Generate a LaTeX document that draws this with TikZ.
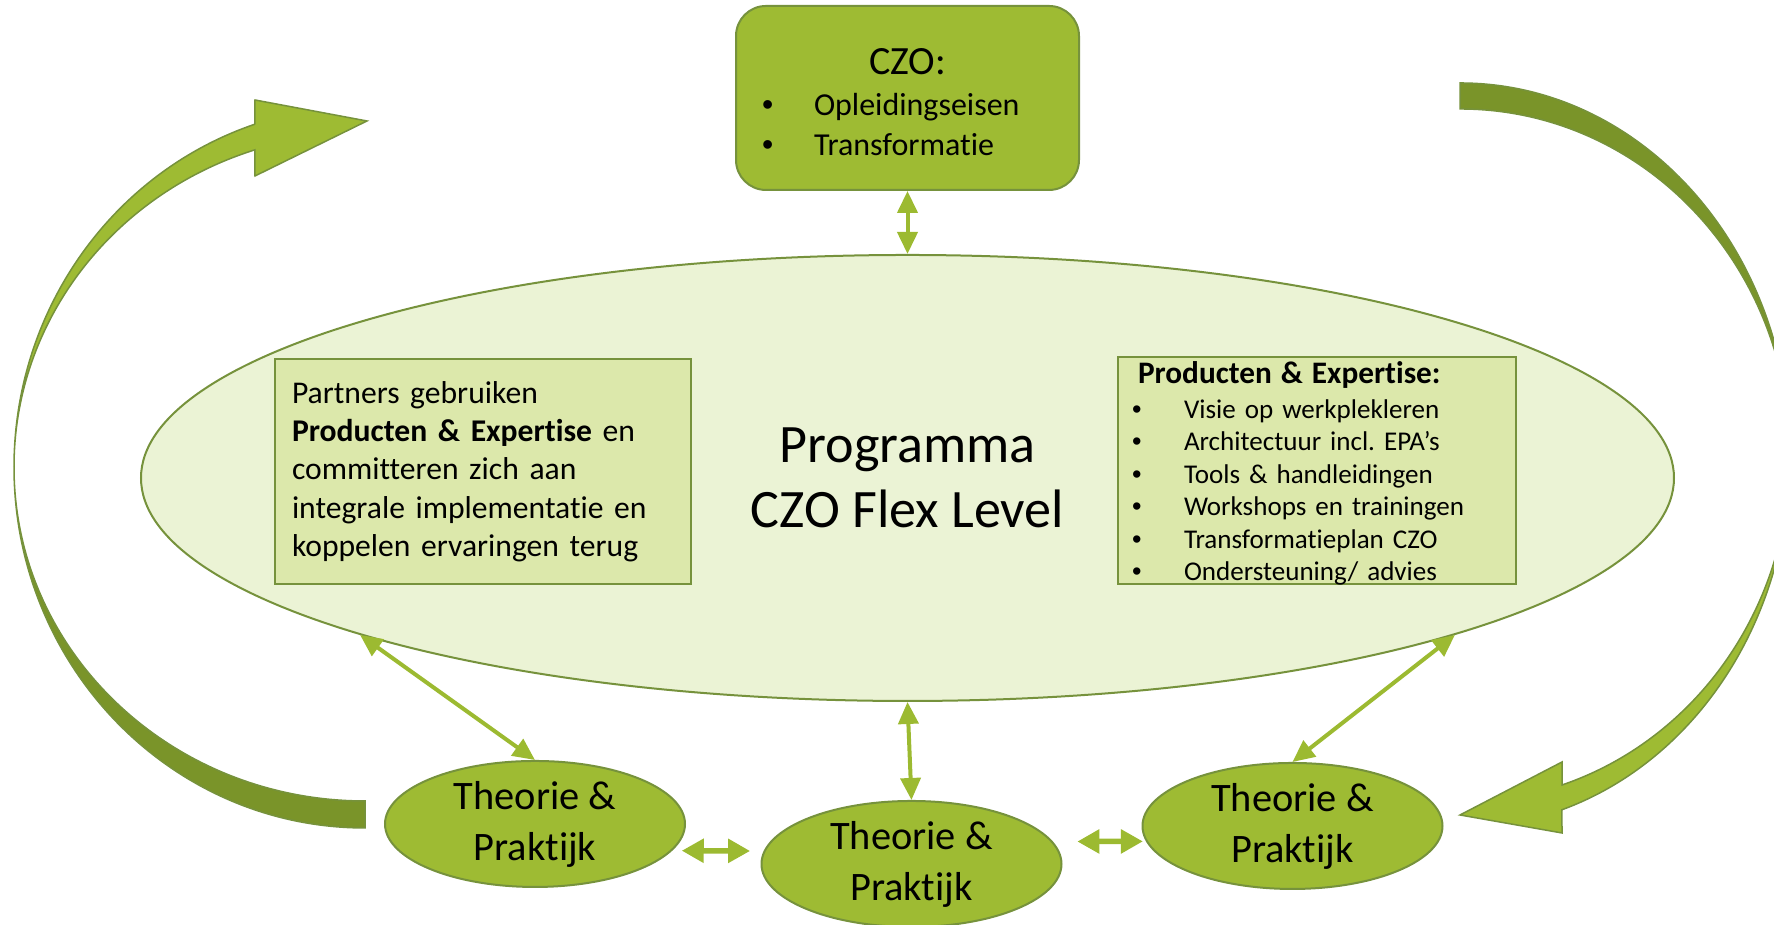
\documentclass[tikz,border=0pt]{standalone}
\usepackage{fontspec}
\setmainfont{Carlito}[Ligatures={NoCommon,NoContextual}]
\newfontfamily\bulletfont{Liberation Sans}
\usepackage{tikz}
\usetikzlibrary{shapes.geometric, arrows.meta, positioning}
\usepackage{xcolor}

\newcommand{\bulletmark}{\makebox[0.46cm][l]{\hspace*{-0.06cm}\bulletfont •}}

\begin{document}
\frenchspacing
\begin{tikzpicture}[
    >={Triangle[length=0.22cm, width=0.2cm]},
    node distance=0.6cm and 0.8cm,
    font=\fontsize{9pt}{10.9pt}\selectfont
]

\definecolor{colorleaf}{HTML}{9EBB33}
\definecolor{borderleaf}{HTML}{76923C}
\definecolor{colorcore}{HTML}{EBF3D5}
\definecolor{colorinfo}{HTML}{DCE8AB}
\definecolor{colorback}{HTML}{7A9429}
\definecolor{colorlink}{HTML}{9CBA31}

\tikzset{
    corebase/.style={
        ellipse,
        draw=borderleaf,
        fill=colorcore,
        line width=0.02cm,
        minimum width=15.33cm,
        minimum height=4.46cm,
        align=center,
        font=\fontsize{15.4pt}{18.5pt}\selectfont
    },
    leafbase/.style={
        ellipse,
        draw=borderleaf,
        fill=colorleaf,
        line width=0.02cm,
        minimum width=3cm,
        minimum height=1.26cm,
        inner sep=0pt,
        align=center,
        font=\fontsize{11.5pt}{14.5pt}\selectfont
    },
    infobase/.style={
        rectangle,
        draw=borderleaf,
        fill=colorinfo,
        line width=0.025cm,
        inner ysep=0pt,
        align=left
    },
    link/.style={
        <->,
        line width=0.04cm,
        draw=colorlink
    },
    blocklink/.style={
        {Triangle[length=0.22cm, width=0.23cm]}-{Triangle[length=0.22cm, width=0.23cm]},
        line width=0.055cm,
        draw=colorlink
    },
    ribbon/.style={
        draw=borderleaf,
        line width=0.015cm
    }
}

\useasboundingbox (0,0) rectangle (17.74,9.25);

% Curved arrows
\draw[ribbon, fill=colorleaf] (2.548,8.007) -- (2.55,8.25) -- (3.67,8.04) -- (2.55,7.49) -- (2.548,7.751)
    arc[start angle=108.3, end angle=180, x radius=3.51, y radius=3.34]
    arc[start angle=180, end angle=108.3, x radius=3.51, y radius=3.61] -- cycle;
\draw[ribbon, fill=colorback] (0.14,4.58)
    arc[start angle=180, end angle=270, x radius=3.51, y radius=3.61] -- (3.65,1.24)
    arc[start angle=270, end angle=180, x radius=3.51, y radius=3.34] -- cycle;

\draw[ribbon, fill=colorback] (14.60,8.42)
    arc[start angle=90, end angle=0, x radius=3.30, y radius=3.725] -- (17.90,4.695)
    arc[start angle=0, end angle=90, x radius=3.30, y radius=3.465] -- cycle;
\draw[ribbon, fill=colorleaf] (17.90,4.695)
    arc[start angle=0, end angle=-72, x radius=3.30, y radius=3.725]
    -- (15.62,0.92) -- (14.60,1.10) -- (15.62,1.63) -- (15.62,1.40)
    arc[start angle=-72, end angle=0, x radius=3.30, y radius=3.465] -- cycle;

% Nodes
\node[corebase] (main) at (9.075,4.47) {Programma\\CZO Flex Level};
\node[rectangle, rounded corners=0.3cm, draw=borderleaf, fill=colorleaf, line width=0.02cm,
    minimum width=3.43cm, minimum height=1.84cm, text width=2.79cm, inner xsep=0.32cm,
    text depth=0.72cm, align=left, font=\fontsize{9.1pt}{11.4pt}\selectfont, above=0.63cm of main] (czo)
    {\makebox[2.79cm]{\fontsize{11.4pt}{13pt}\selectfont CZO:}\\ \bulletmark Opleidingseisen\\ \bulletmark Transformatie};

\node[infobase, minimum width=4.16cm, minimum height=2.25cm, text width=3.82cm, inner xsep=0.17cm] (partners) at (4.83,4.535)
    {Partners gebruiken\\ \textbf{Producten \& Expertise} en\\ committeren zich aan\\ integrale implementatie en\\ koppelen ervaringen terug};
\node[infobase, minimum width=3.98cm, minimum height=2.27cm, text width=3.58cm, inner xsep=0.2cm,
    text depth=1.967cm, font=\fontsize{7.7pt}{9.25pt}\selectfont] (products) at (13.17,4.545)
    {{\fontsize{8.9pt}{9.25pt}\selectfont\textbf{Producten \& Expertise:}}\\[0.025cm]
     \bulletmark Visie op werkplekleren\\
     \bulletmark Architectuur incl. EPA’s\\
     \bulletmark Tools \& handleidingen\\
     \bulletmark Workshops en trainingen\\
     \bulletmark Transformatieplan CZO\\
     \bulletmark Ondersteuning/ advies};

\node[leafbase, below=0.98cm of main, xshift=0.04cm] (tpm) {Theorie \&\\Praktijk};
\node[leafbase, left=0.745cm of tpm, yshift=0.4cm] (tpl) {Theorie \&\\Praktijk};
\node[leafbase, right=0.79cm of tpm, yshift=0.38cm] (tpr) {Theorie \&\\Praktijk};

% Edges to the programme
\draw[link] (czo.south) -- (main.north);
\draw[link] (main.196.5) -- (tpl.north);
\draw[link] (main.south) -- (tpm.north);
\draw[link] (main.-16.3) -- (tpr.north);

% Edges between the partners
\draw[blocklink, shorten <=0.095cm, shorten >=0.135cm] (tpl.-11.5) -- (tpm.175.1);
\draw[blocklink, shorten <=0.244cm, shorten >=0.03cm] (tpm.9.1) -- (tpr.186.1);

\end{tikzpicture}
\end{document}
